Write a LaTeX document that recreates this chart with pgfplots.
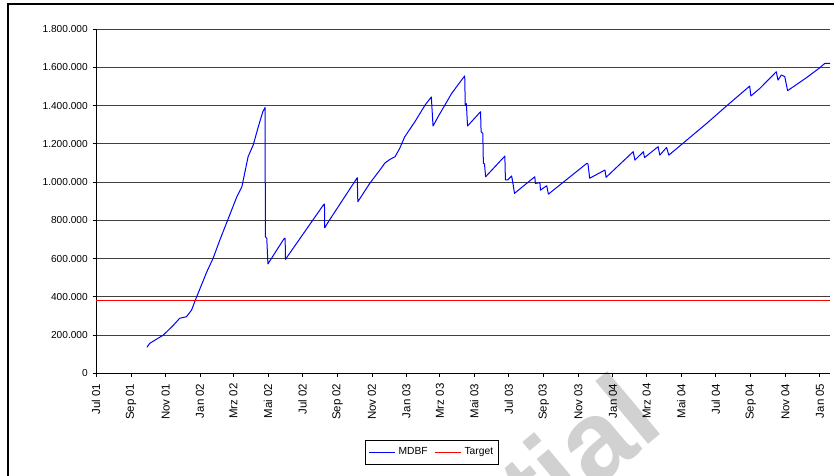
\documentclass[border=0pt]{standalone}
\usepackage{pgfplots}
\pgfplotsset{compat=1.18}
\usepackage{fontspec}
\setmainfont{Liberation Sans}
\pgfplotstableread{
day value
90 136000
95 157000
119 200000
137 252000
148 288000
160 296000
169 331000
178 400000
196 531000
207 601000
219 697000
234 810000
249 923000
258 976000
269 1133000
278 1194000
287 1289000
295 1368000
299 1390000
299.5 714000
302 706000
304 572000
331 697000
333 706000
334.5 706000
335 596000
402 880000
404 885000
404.5 761000
411 793000
462 1023000
463 897000
484 993000
502 1063000
511 1100000
520 1119000
529 1133000
537 1176000
546 1237000
564 1316000
582 1403000
593 1445000
596 1293000
605 1342000
617 1403000
629 1464000
652 1555000
653 1400000
655 1410000
657 1293000
680 1368000
681 1263000
684 1255000
685 1098000
687 1095000
689 1028000
723 1136000
724 1011000
728 1011000
735 1032000
738 981000
740 941000
776 1028000
777 993000
785 997000
786 958000
797 981000
800 937000
868 1098000
870 1095000
873 1020000
900 1063000
902 1025000
950 1159000
953 1115000
968 1159000
970 1128000
994 1185000
997 1141000
1009 1181000
1013 1141000
1038 1203000
1080 1307000
1115 1398000
1156 1502000
1158 1450000
1174 1490000
1203 1577000
1206 1533000
1212 1560000
1218 1551000
1223 1478000
1256 1545000
1280 1598000
1289 1621000
1298 1621000
}\mdbf
\begin{document}
\begin{tikzpicture}
\useasboundingbox (0,0) rectangle (625.5pt,-356.25pt);
\begin{scope}
\clip (0,0) rectangle (625.5pt,-356.25pt);
\node[rotate=40, anchor=base east, text=black!18, font=\fontsize{85}{85}\selectfont\bfseries, inner sep=0pt] at (500pt,-322pt) {tial};
\end{scope}
\draw[line width=1.5pt] (6pt,-360pt) -- (6pt,-3pt) -- (630pt,-3pt);
\begin{axis}[
  at={(72pt,-280pt)}, anchor=south west,
  scale only axis, width=550.5pt, height=258.2pt,
  xmin=0, xmax=1298, ymin=0, ymax=1800000,
  axis x line*=bottom, axis y line*=left,
  axis line style={line width=0.75pt, black, -},
  tick align=outside, major tick length=2.5pt,
  tick style={black, line width=0.6pt},
  ytick={0,200000,400000,600000,800000,1000000,1200000,1400000,1600000,1800000},
  scaled y ticks=false,
  /pgf/number format/assume math mode=true,
  /pgf/number format/fixed,
  /pgf/number format/1000 sep={.},
  xtick={0,62,123,184,243,304,365,427,488,549,608,669,730,792,853,914,974,1035,1096,1158,1219,1280},
  xticklabels={Jul 01,Sep 01,Nov 01,Jan 02,Mrz 02,Mai 02,Jul 02,Sep 02,Nov 02,Jan 03,Mrz 03,Mai 03,Jul 03,Sep 03,Nov 03,Jan 04,Mrz 04,Mai 04,Jul 04,Sep 04,Nov 04,Jan 05},
  x tick label style={rotate=90, anchor=east, inner sep=1pt, font=\fontsize{8.6}{10}\selectfont},
  xticklabel shift=4pt,
  y tick label style={inner sep=1pt, xshift=-2.5pt, font=\fontsize{7.6}{9}\selectfont},
  ymajorgrids, grid style={black!75, line width=0.7pt},
  legend columns=2,
  legend style={at={(0.4578,-0.2286)}, anchor=center, draw=black, line width=0.6pt,
    font=\fontsize{7.7}{9}\selectfont, inner xsep=2pt, inner ysep=3.5pt,
    /tikz/every even column/.append style={column sep=3pt}},
  legend image code/.code={\draw[#1, line width=0.7pt] (0pt,0pt) -- (20pt,0pt);},
]
\addplot[blue, line width=0.75pt, line join=round] table[x=day, y=value] {\mdbf};
\addlegendentry{MDBF}
\addplot[red, line width=0.75pt] coordinates {(0,380000) (1298,380000)};
\addlegendentry{Target}
\end{axis}
\end{tikzpicture}
\end{document}
